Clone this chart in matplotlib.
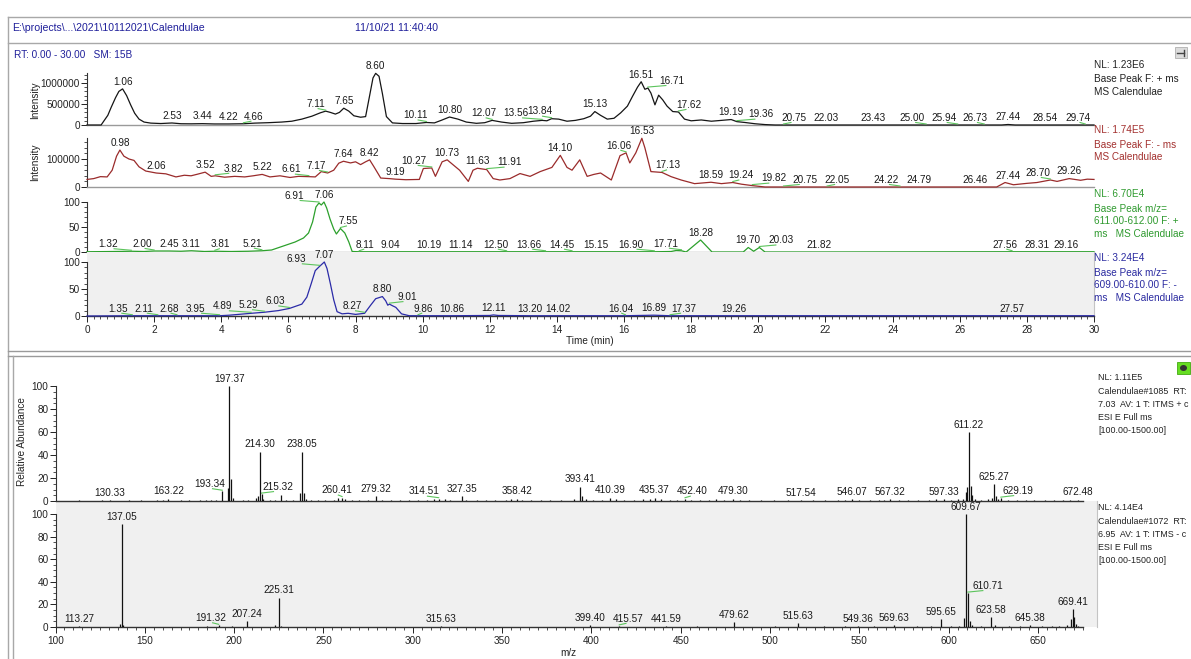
import numpy as np
import matplotlib
matplotlib.use("Agg")
import matplotlib.pyplot as plt
from matplotlib.lines import Line2D
from matplotlib.patches import Rectangle, Ellipse
from matplotlib.ticker import FixedLocator, MultipleLocator, NullLocator, FuncFormatter
from matplotlib.transforms import IdentityTransform

plt.rcParams["font.family"] = ["Liberation Sans", "DejaVu Sans"]

# ---------------- chromatograms: (RT [min], signal) ----------------
# Base Peak F: + ms, intensity in thousands of counts
bp_pos_k = [
    (0.00, 0), (0.42, 0), (0.55, 150), (0.62, 230), (0.72, 420), (0.85, 650), (0.95, 800),
    (1.06, 860), (1.18, 700), (1.30, 480), (1.42, 280), (1.55, 140), (1.70, 70), (1.90, 45),
    (2.20, 35), (2.53, 48), (2.80, 30), (3.10, 28), (3.44, 32), (3.80, 25), (4.22, 25),
    (4.66, 30), (5.00, 45), (5.40, 55), (5.80, 70), (6.10, 90), (6.40, 140), (6.70, 210),
    (6.95, 290), (7.11, 330), (7.25, 300), (7.40, 260), (7.52, 300), (7.65, 400), (7.80, 330),
    (7.95, 220), (8.15, 185), (8.30, 200), (8.42, 700), (8.52, 1120), (8.60, 1230), (8.70, 1160),
    (8.80, 750), (8.92, 200), (9.10, 50), (9.40, 35), (9.80, 35), (10.11, 60), (10.35, 50),
    (10.55, 110), (10.80, 190), (11.05, 140), (11.30, 70), (11.60, 40), (11.85, 55), (12.07, 110),
    (12.35, 70), (12.65, 40), (13.00, 55), (13.30, 90), (13.56, 110), (13.70, 100), (13.84, 150),
    (14.05, 140), (14.30, 90), (14.55, 110), (14.80, 150), (15.00, 210), (15.13, 320), (15.30, 230),
    (15.50, 140), (15.70, 160), (15.90, 290), (16.10, 450), (16.25, 680), (16.40, 900), (16.51, 1030),
    (16.62, 850), (16.71, 880), (16.80, 760), (16.92, 480), (17.03, 710), (17.15, 600), (17.28, 450),
    (17.45, 320), (17.62, 310), (17.80, 140), (18.00, 100), (18.30, 120), (18.60, 90), (18.90, 110),
    (19.19, 130), (19.36, 80), (19.60, 60), (19.90, 30), (20.20, 10), (20.50, 0), (27.25, 0),
    (27.44, 12), (27.65, 0), (30.00, 0),
]
# Base Peak F: - ms, intensity in thousands of counts
bp_neg_k = [
    (0.00, 27), (0.20, 30), (0.40, 37), (0.60, 36), (0.75, 60), (0.88, 110), (0.98, 132),
    (1.10, 110), (1.25, 100), (1.40, 95), (1.55, 72), (1.75, 57), (2.06, 50), (2.35, 47),
    (2.65, 36), (2.90, 42), (3.10, 40), (3.30, 46), (3.52, 53), (3.70, 38), (3.82, 40),
    (4.10, 35), (4.40, 38), (4.70, 36), (4.95, 40), (5.22, 45), (5.45, 36), (5.75, 40),
    (6.05, 34), (6.30, 38), (6.61, 37), (6.80, 36), (6.98, 55), (7.17, 50), (7.35, 60),
    (7.50, 85), (7.64, 92), (7.85, 86), (8.00, 90), (8.15, 80), (8.30, 90), (8.42, 97),
    (8.55, 72), (8.75, 32), (9.00, 30), (9.19, 28), (9.50, 26), (9.90, 27), (10.02, 66),
    (10.27, 68), (10.38, 38), (10.58, 90), (10.73, 97), (10.90, 80), (11.10, 60), (11.36, 20),
    (11.50, 60), (11.63, 67), (11.91, 62), (12.10, 30), (12.30, 25), (12.60, 30), (12.90, 48),
    (13.20, 38), (13.50, 55), (13.85, 70), (14.10, 113), (14.30, 70), (14.45, 60), (14.68, 97),
    (14.90, 38), (15.10, 45), (15.30, 50), (15.62, 25), (15.88, 112), (16.06, 122), (16.17, 86),
    (16.35, 122), (16.53, 174), (16.62, 140), (16.80, 55), (17.13, 52), (17.40, 37), (17.70, 25),
    (18.10, 12), (18.59, 17), (18.90, 12), (19.24, 16), (19.50, 10), (19.82, 5), (20.20, 0),
    (27.10, 0), (27.35, 16), (27.60, 8), (28.00, 13), (28.30, 16), (28.70, 25), (28.90, 20),
    (29.26, 30), (29.60, 24), (29.80, 28), (30.00, 27),
]
# Base Peak m/z 611.00-612.00, + ms, relative (%)
xic_611 = [
    (0.00, 0.5), (0.80, 1.0), (1.32, 1.5), (1.70, 1.0), (2.00, 2.0), (2.45, 2.0), (2.80, 1.5),
    (3.11, 2.5), (3.50, 1.0), (3.81, 1.5), (4.30, 1.0), (4.80, 1.5), (5.21, 2.5), (5.50, 4),
    (5.85, 12), (6.20, 20), (6.45, 28), (6.60, 38), (6.72, 60), (6.82, 90), (6.91, 98),
    (6.98, 94), (7.06, 100), (7.14, 88), (7.24, 66), (7.35, 46), (7.43, 36), (7.55, 47),
    (7.68, 38), (7.80, 20), (7.90, 1), (8.11, 0.5), (9.04, 0.5), (10.19, 0.5), (11.14, 0.5),
    (12.50, 0.5), (13.66, 0.5), (14.45, 0.5), (15.15, 0.5), (16.90, 0.5), (17.40, 1),
    (17.55, 3), (17.71, 2.5), (17.85, 0), (18.28, 24), (18.62, 0), (19.55, 0), (19.70, 9),
    (19.86, 1.5), (20.03, 9), (20.20, 0), (21.82, 0), (27.56, 0.5), (28.31, 0.5),
    (29.16, 0.5), (30.00, 0.5),
]
# Base Peak m/z 609.00-610.00, - ms, relative (%)
xic_609 = [
    (0.00, 0), (1.35, 0.5), (2.11, 0.5), (2.68, 0.5), (3.95, 0.5), (4.24, 1.5), (4.89, 5),
    (5.29, 7), (5.70, 10), (6.03, 14), (6.40, 22), (6.55, 35), (6.68, 60), (6.80, 84),
    (6.93, 92), (7.00, 96), (7.07, 100), (7.15, 88), (7.25, 60), (7.35, 30), (7.45, 8),
    (7.60, 4), (7.78, 5), (8.00, 3), (8.27, 5), (8.45, 20), (8.60, 32), (8.80, 36),
    (8.90, 28), (8.96, 20), (9.01, 22), (9.10, 19), (9.20, 16), (9.37, 4), (9.60, 0.5),
    (9.86, 0.5), (10.86, 0.5), (12.00, 1), (12.11, 2), (12.25, 1), (13.20, 0.5), (14.02, 0.5),
    (16.04, 0.5), (16.89, 1.5), (17.37, 0.5), (19.26, 0.5), (27.57, 0.5), (30.00, 0.5),
]

# retention times annotated in each trace
bp_pos_rts = [1.06, 2.53, 3.44, 4.22, 4.66, 7.11, 7.65, 8.60, 10.11, 10.80, 12.07, 13.56, 13.84,
              15.13, 16.51, 16.71, 17.62, 19.19, 19.36, 20.75, 22.03, 23.43, 25.00, 25.94, 26.73,
              27.44, 28.54, 29.74]
bp_neg_rts = [0.98, 2.06, 3.52, 3.82, 5.22, 6.61, 7.17, 7.64, 8.42, 9.19, 10.27, 10.73, 11.63,
              11.91, 14.10, 16.06, 16.53, 17.13, 18.59, 19.24, 19.82, 20.75, 22.05, 24.22, 24.79,
              26.46, 27.44, 28.70, 29.26]
xic_611_rts = [1.32, 2.00, 2.45, 3.11, 3.81, 5.21, 6.91, 7.06, 7.55, 8.11, 9.04, 10.19, 11.14,
               12.50, 13.66, 14.45, 15.15, 16.90, 17.71, 18.28, 19.70, 20.03, 21.82, 27.56,
               28.31, 29.16]
xic_609_rts = [1.35, 2.11, 2.68, 3.95, 4.89, 5.29, 6.03, 6.93, 7.07, 8.27, 8.80, 9.01, 9.86,
               10.86, 12.11, 13.20, 14.02, 16.04, 16.89, 17.37, 19.26, 27.57]

# ---------------- mass spectra: (m/z, relative abundance %) ----------------
spec_pos = [
    (113, 0.5), (118, 0.4), (126, 0.6), (130.33, 1.0), (141, 0.5), (148, 0.7), (152, 0.4),
    (157, 0.6), (160, 0.8), (163.22, 2.0), (170, 0.6), (175, 0.8), (181, 1.0), (184, 0.5),
    (187, 1.2), (190, 0.8), (193.34, 8.5), (196.4, 11), (197.37, 100), (198.4, 19), (199.3, 3),
    (205, 0.6), (208, 1.0), (212.5, 2.5), (213.3, 4), (214.30, 43), (215.32, 6), (216.3, 2),
    (220, 1), (223, 0.8), (226.4, 5), (229, 1), (233, 0.6), (236.9, 7), (238.05, 43), (239, 7),
    (240, 2), (243, 1), (247, 0.8), (251, 0.6), (256, 1.2), (258, 2.5), (260.41, 3), (262, 1.5),
    (266, 0.8), (270, 1), (275, 0.8), (279.32, 4), (283, 1), (288, 0.8), (293, 1), (298, 0.6),
    (303, 0.8), (308, 1), (312, 1.5), (314.51, 2), (318, 1.5), (321, 1), (327.35, 4), (330, 1.2),
    (336, 0.8), (341, 1), (346, 0.8), (352, 1), (355, 1.5), (358.42, 2), (361, 1), (366, 0.8),
    (372, 1), (377, 1.2), (383, 1), (390, 2), (393.41, 12.5), (394.6, 4), (397, 1.5), (401, 1),
    (406, 1.2), (410.39, 3), (414, 1.5), (418, 1), (424, 1), (429, 1.5), (433, 1.5), (435.37, 3),
    (439, 1.5), (444, 1), (448, 1.2), (452.40, 2), (456, 1.2), (461, 1), (466, 1), (470, 1.5),
    (474, 1), (479.30, 2), (483, 1), (488, 0.8), (495, 0.8), (502, 0.6), (510, 0.8),
    (517.54, 1), (524, 0.8), (531, 0.6), (538, 0.8), (542, 1), (546.07, 1.5), (550, 0.8),
    (556, 0.8), (561, 1), (564, 1.2), (567.32, 1.5), (572, 1), (577, 0.8), (583, 1), (589, 1.2),
    (593, 1.5), (597.33, 1.5), (601, 1.2), (605, 1.5), (608, 2), (609.7, 8), (610.4, 12),
    (611.22, 60), (612.2, 13), (613.2, 5), (614.5, 2), (618, 1), (622, 1.5), (624.2, 3),
    (625.27, 15), (626.3, 4), (627.5, 2), (629.19, 2.5), (633, 1.2), (638, 1), (643, 1),
    (648, 0.8), (654, 1), (659, 1), (664, 0.8), (668, 1), (672.48, 1.2),
]
spec_neg = [
    (104, 0.4), (113.27, 0.6), (121, 0.3), (129, 0.4), (136, 3), (137.05, 91), (138, 1.5),
    (146, 0.3), (160, 0.4), (175, 0.3), (185, 0.5), (191.32, 1.5), (199, 0.5), (207.24, 5),
    (214, 0.4), (222.8, 1.5), (225.31, 26), (226.5, 1), (240, 0.4), (258, 0.3), (280, 0.4),
    (300, 0.3), (315.63, 1), (330, 0.3), (350, 0.4), (372, 0.3), (388, 0.4), (399.40, 1.5),
    (405, 0.4), (415.57, 1), (430, 0.4), (441.59, 1), (459, 0.5), (472, 0.4), (479.62, 4),
    (490, 0.4), (503, 0.5), (515.63, 3.5), (530, 0.5), (542, 0.6), (549.36, 1), (558, 0.6),
    (569.63, 1.5), (582, 0.6), (590, 0.8), (595.65, 7), (601, 1), (606, 1.2), (608.6, 8),
    (609.67, 100), (610.71, 30), (611.7, 5), (613, 1.5), (618, 0.8), (623.58, 9), (626, 1.5),
    (634, 0.8), (640, 1), (645.38, 1.5), (652, 1), (658, 1.2), (662, 0.8), (666, 1.5),
    (668.5, 7), (669.41, 16), (670.3, 9), (671.2, 3), (672.5, 1),
]
spec_pos_labels = [130.33, 163.22, 193.34, 197.37, 214.30, 215.32, 238.05, 260.41, 279.32, 314.51,
                   327.35, 358.42, 393.41, 410.39, 435.37, 452.40, 479.30, 517.54, 546.07, 567.32,
                   597.33, 611.22, 625.27, 629.19, 672.48]
spec_neg_labels = [113.27, 137.05, 191.32, 207.24, 225.31, 315.63, 399.40, 415.57, 441.59, 479.62,
                   515.63, 549.36, 569.63, 595.65, 609.67, 610.71, 623.58, 645.38, 669.41]

# horizontal label displacement (pixels) for labels moved off their apex
shift_pos = {4.66: 10, 7.11: -10, 10.11: -11, 12.07: -8, 13.56: -26, 13.84: -12, 16.71: 24,
             17.62: 10, 19.36: 24, 20.75: 10, 25.00: -14, 25.94: -14, 26.73: -9, 29.74: -7}
shift_neg = {3.82: 18, 6.61: -18, 7.17: -11, 10.27: -18, 11.91: 23, 16.06: -7, 17.13: 6,
             19.24: 8, 19.82: 22, 20.75: 21, 22.05: 10, 24.22: -14, 28.70: -12}
shift_611 = {1.32: -23, 2.00: -12, 3.81: 6, 5.21: -10, 6.91: -25, 7.55: 8, 8.11: 6, 12.50: -11,
             13.66: -17, 14.45: -10, 16.90: -23, 17.71: -16, 20.03: 22, 27.56: -7}
shift_609 = {1.35: -14, 2.11: -14, 2.68: -8, 3.95: -24, 4.89: -29, 5.29: -16, 6.03: -14,
             6.93: -23, 8.27: -12, 9.01: 18, 9.86: 5, 16.04: -5, 17.37: 14}
shift_spos = {193.34: -13, 215.32: 16, 260.41: -5, 314.51: -15, 452.40: 7, 629.19: 17}
shift_sneg = {191.32: -8, 415.57: 9, 610.71: 20}

# ---------------- figure ----------------
W, H = 1191, 659
fig = plt.figure(figsize=(W / 100, H / 100), dpi=100)
fig.patch.set_facecolor("white")
FS = 7.2
FRAME = "#a8a8a8"
NAVY = "#1f1f9a"
LEADER = "#5cc45c"
GRAY_BG = "#f0f0f0"


def px_axes(x0, x1, ytop, ybot):
    return fig.add_axes([x0 / W, 1 - ybot / H, (x1 - x0) / W, (ybot - ytop) / H])


def fline(xs, ys, color=FRAME, lw=1.0):
    fig.add_artist(Line2D([x / W for x in xs], [1 - y / H for y in ys],
                          transform=fig.transFigure, color=color, lw=lw))


def ftext(x, y, s, **kw):
    kw.setdefault("fontsize", FS)
    kw.setdefault("va", "center")
    fig.text(x / W, 1 - y / H, s, **kw)


int_fmt = FuncFormatter(lambda v, p: f"{int(round(v))}")


def base_style(ax, bottom_color="#9a9a9a"):
    for s in ("top", "right"):
        ax.spines[s].set_visible(False)
    ax.spines["left"].set_color("#333333")
    ax.spines["left"].set_linewidth(0.8)
    ax.spines["bottom"].set_color(bottom_color)
    ax.spines["bottom"].set_linewidth(1.0)
    ax.tick_params(axis="y", which="major", direction="out", length=4, width=0.7,
                   labelsize=FS, pad=1, colors="#222222")
    ax.tick_params(axis="y", which="minor", direction="out", length=2.2, width=0.6, colors="#333333")
    ax.yaxis.set_major_formatter(int_fmt)
    ax.set_facecolor("none")


def label_peaks(ax, positions, xs, ys, shifts, fmt="{:.2f}"):
    for p in positions:
        y = float(np.interp(p, xs, ys))
        dx = shifts.get(p, 0)
        ax.annotate(fmt.format(p), xy=(p, y), xytext=(dx * 0.72, 1.6), textcoords="offset points",
                    ha="center", va="bottom", fontsize=FS, color="#1a1a1a", annotation_clip=False)
        if dx:
            X, Y = ax.transData.transform((p, y))
            fig.add_artist(Line2D([X + dx * 0.75, X], [Y + 2.5, Y + 1.0],
                                  transform=IdentityTransform(), color=LEADER, lw=0.8))


# ---------------- frames ----------------
fline([8, 1191], [17, 17])
fline([8, 1191], [43, 43])
fline([8, 8], [17, 659])
fline([8, 1191], [351, 351], color="#9a9a9a")
fline([8, 1191], [356, 356], color="#9a9a9a")
fline([13, 13], [356, 659], color=FRAME)
ftext(12, 28, r"E:\projects\...\2021\10112021\Calendulae", color=NAVY, fontsize=7.6)
ftext(355, 28, "11/10/21 11:40:40", color=NAVY, fontsize=7.6)
ftext(14, 55, "RT: 0.00 - 30.00   SM: 15B", color=NAVY, fontsize=7.2)

# small toolbar icons
fig.add_artist(Rectangle(((1175) / W, 1 - 58 / H), 12 / W, 11 / H, transform=fig.transFigure,
                         facecolor="#dcdcdc", edgecolor="#b0b0b0", lw=0.6))
fline([1177, 1184], [52.5, 52.5], color="#444444", lw=1.0)
fline([1184, 1184], [49.5, 55.5], color="#444444", lw=1.0)
fig.add_artist(Rectangle((1177 / W, 1 - 374 / H), 13 / W, 12 / H, transform=fig.transFigure,
                         facecolor="#66dd22", edgecolor="#44aa11", lw=0.6))
fig.add_artist(Ellipse((1183.5 / W, 1 - 368 / H), 7 / W, 6 / H, transform=fig.transFigure,
                       facecolor="#333333", edgecolor="none"))

# ---------------- chromatogram panels ----------------
X0, X1 = 87, 1094
panels = [
    # data, scale, ymax, y0 px, px per unit, colour, text colour, rts, shifts, notes
    (bp_pos_k, 1e3, 1.23e6, 125, 42e-6, "#151515", "#222222", bp_pos_rts, shift_pos,
     ["NL: 1.23E6", "Base Peak F: + ms", "MS Calendulae"]),
    (bp_neg_k, 1e3, 1.74e5, 187, 28e-5, "#9a2b2b", "#a3302e", bp_neg_rts, shift_neg,
     ["NL: 1.74E5", "Base Peak F: - ms", "MS Calendulae"]),
    (xic_611, 1.0, 100.0, 252, 0.50, "#2ca02c", "#2f9a2f", xic_611_rts, shift_611,
     ["NL: 6.70E4", "Base Peak m/z=", "611.00-612.00 F: +", "ms   MS Calendulae"]),
    (xic_609, 1.0, 118.5, 316, 0.54, "#2b2ba8", "#2a2aa0", xic_609_rts, shift_609,
     ["NL: 3.24E4", "Base Peak m/z=", "609.00-610.00 F: -", "ms   MS Calendulae"]),
]
chrom_axes = []
for i, (data, scale, ymax, ybot, ppu, col, tcol, rts, shifts, notes) in enumerate(panels):
    ytop = ybot - ymax * ppu
    ax = px_axes(X0, X1, ytop, ybot)
    ax.set_xlim(0, 30)
    ax.set_ylim(0, ymax)
    t = np.array([d[0] for d in data])
    v = np.array([d[1] for d in data]) * scale
    last = i == 3
    base_style(ax, bottom_color="#333333" if last else "#9a9a9a")
    ax.plot(t, v, color=col, lw=0.9, clip_on=False, zorder=3)
    if i == 0:
        ax.yaxis.set_major_locator(FixedLocator([0, 500000, 1000000]))
        ax.yaxis.set_minor_locator(FixedLocator(np.arange(0, 1.2e6 + 1, 1e5)))
    elif i == 1:
        ax.yaxis.set_major_locator(FixedLocator([0, 100000]))
        ax.yaxis.set_minor_locator(FixedLocator(np.arange(0, 1.7e5, 2e4)))
    else:
        ax.yaxis.set_major_locator(FixedLocator([0, 50, 100]))
        ax.yaxis.set_minor_locator(FixedLocator(np.arange(0, 101, 10)))
    if last:
        ax.set_facecolor(GRAY_BG)
        ax.spines["left"].set_bounds(0, 100)
        ax.spines["right"].set_visible(True)
        ax.spines["right"].set_color("#c4c4c4")
        ax.spines["right"].set_linewidth(0.8)
        ax.xaxis.set_major_locator(MultipleLocator(2))
        ax.xaxis.set_minor_locator(MultipleLocator(0.2))
        ax.xaxis.set_major_formatter(FuncFormatter(lambda x, p: f"{int(round(x))}"))
        ax.tick_params(axis="x", which="major", direction="out", length=4.5, width=0.7,
                       labelsize=FS, pad=2, colors="#222222")
        ax.tick_params(axis="x", which="minor", direction="out", length=2.4, width=0.6,
                       colors="#333333")
    else:
        ax.xaxis.set_major_locator(NullLocator())
        ax.xaxis.set_minor_locator(NullLocator())
    label_peaks(ax, rts, t, v, shifts)
    y_note = [65, 130, 194, 258][i]
    for k, line in enumerate(notes):
        dy = 0 if k == 0 else 14.5 + (k - 1) * 12.8
        ftext(1094, y_note + dy, line, color=tcol, ha="left")
    chrom_axes.append(ax)

ftext(35, 100, "Intensity", rotation=90, ha="center", color="#222222")
ftext(35, 162, "Intensity", rotation=90, ha="center", color="#222222")
ftext(590, 341, "Time (min)", ha="center", color="#222222")

# ---------------- mass spectra ----------------
SX0, SX1 = 55.5, 1097
MZ_MIN, MZ_MAX = 100, 683


def spectrum_axes(ytop, ybot, ymax):
    ax = px_axes(SX0, SX1, ytop, ybot)
    ax.set_xlim(MZ_MIN, MZ_MAX)
    ax.set_ylim(0, ymax)
    base_style(ax, bottom_color="#333333")
    ax.spines["bottom"].set_bounds(MZ_MIN, 675)
    ax.spines["left"].set_bounds(0, 100)
    ax.yaxis.set_major_locator(FixedLocator(np.arange(0, 101, 20)))
    ax.yaxis.set_minor_locator(FixedLocator(np.arange(0, 101, 5)))
    return ax


sp1 = spectrum_axes(386, 501, 100)
sp1.xaxis.set_major_locator(NullLocator())
sp1.xaxis.set_minor_locator(NullLocator())
sp2 = spectrum_axes(501, 627, 111.5)
sp2.set_facecolor(GRAY_BG)
sp2.spines["right"].set_visible(True)
sp2.spines["right"].set_color("#c4c4c4")
sp2.spines["right"].set_linewidth(0.8)
sp2.xaxis.set_major_locator(FixedLocator(np.arange(100, 651, 50)))
sp2.xaxis.set_minor_locator(FixedLocator(np.arange(100, 676, 5)))
sp2.xaxis.set_major_formatter(FuncFormatter(lambda x, p: f"{int(round(x))}"))
sp2.tick_params(axis="x", which="major", direction="out", length=4.5, width=0.7,
                labelsize=FS, pad=2, colors="#222222")
sp2.tick_params(axis="x", which="minor", direction="out", length=2.4, width=0.6, colors="#333333")
sp1.set_zorder(3)

for ax, peaks, labels, shifts in ((sp1, spec_pos, spec_pos_labels, shift_spos),
                                   (sp2, spec_neg, spec_neg_labels, shift_sneg)):
    mz = np.array([p[0] for p in peaks])
    ab = np.array([p[1] for p in peaks])
    ax.vlines(mz, 0, ab, color="#111111", lw=0.9, zorder=3)
    label_peaks(ax, labels, mz, ab, shifts)

ftext(22, 442, "Relative Abundance", rotation=90, ha="center", color="#222222")
ftext(568, 653, "m/z", ha="center", color="#222222")

spec_notes_pos = ["NL: 1.11E5", "Calendulae#1085  RT:", "7.03  AV: 1 T: ITMS + c",
                  "ESI E Full ms", "[100.00-1500.00]"]
spec_notes_neg = ["NL: 4.14E4", "Calendulae#1072  RT:", "6.95  AV: 1 T: ITMS - c",
                  "ESI E Full ms", "[100.00-1500.00]"]
for y0, notes in ((377, spec_notes_pos), (507, spec_notes_neg)):
    for k, line in enumerate(notes):
        ftext(1098, y0 + (0 if k == 0 else 14 + (k - 1) * 13.2), line, color="#222222", ha="left",
              fontsize=6.4)

fig.savefig("out.png", dpi=100)
